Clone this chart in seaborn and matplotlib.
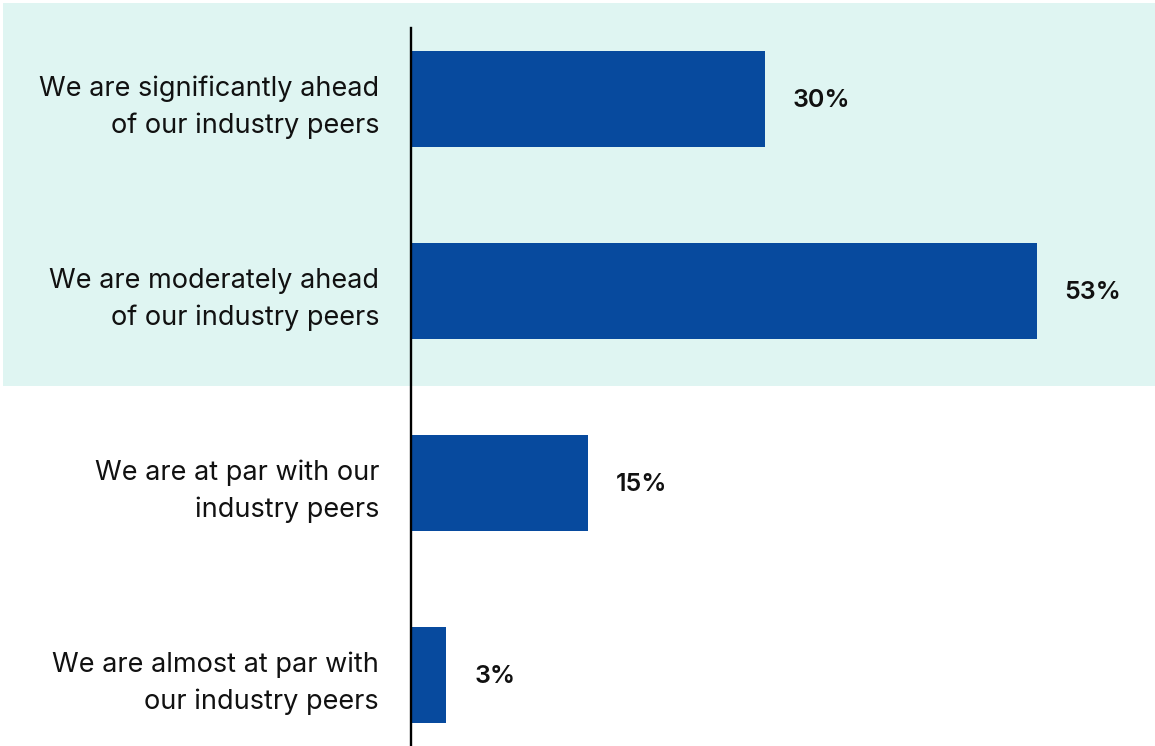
import matplotlib
matplotlib.use("Agg")
import matplotlib.pyplot as plt
import matplotlib.transforms as mtransforms
from matplotlib.patches import Rectangle
import seaborn as sns
import pandas as pd

categories = [
    "We are significantly ahead\nof our industry peers",
    "We are moderately ahead\nof our industry peers",
    "We are at par with our\nindustry peers",
    "We are almost at par with\nour industry peers",
]
values = [30, 53, 15, 3]
value_labels = ["30%", "53%", "15%", "3%"]

sns.set_theme(style="white")
plt.rcParams["font.family"] = ["Inter", "DejaVu Sans"]

df = pd.DataFrame({"category": categories, "value": values})

fig = plt.figure(figsize=(11.55, 7.46), dpi=100)
ax = fig.add_axes([411 / 1155, 0.0, 1 - 411 / 1155, 1 - 28 / 746])
ax.set_facecolor("none")

sns.barplot(data=df, y="category", x="value", orient="h", color="#074a9e",
            width=0.5, saturation=1, linewidth=0, edgecolor="none", ax=ax)

ax.set_xlim(0, 63)
ax.set_ylim(3.37, -0.37)

# highlighted band behind the top two categories
trans = mtransforms.blended_transform_factory(fig.transFigure, ax.transData)
band = Rectangle((3 / 1155, -0.5), 1 - 3 / 1155, 1.995, transform=trans,
                 facecolor="#dff5f2", edgecolor="none", zorder=-10)
fig.patches.append(band)

for i, (v, lab) in enumerate(zip(values, value_labels)):
    ax.annotate(lab, xy=(v, i), xytext=(20, -1), textcoords="offset points",
                ha="left", va="center", fontsize=18, fontweight="semibold",
                color="#111111")

ax.set_xlabel("")
ax.set_ylabel("")
ax.set_xticks([])
ax.tick_params(axis="y", length=0, pad=23, labelsize=19.5, labelcolor="#111111")
for lbl in ax.get_yticklabels():
    lbl.set_linespacing(1.5)
    lbl.set_horizontalalignment("right")

for s in ["top", "right", "bottom"]:
    ax.spines[s].set_visible(False)
ax.spines["left"].set_color("black")
ax.spines["left"].set_linewidth(1.7)

fig.savefig("out.png", dpi=100, facecolor="white")
